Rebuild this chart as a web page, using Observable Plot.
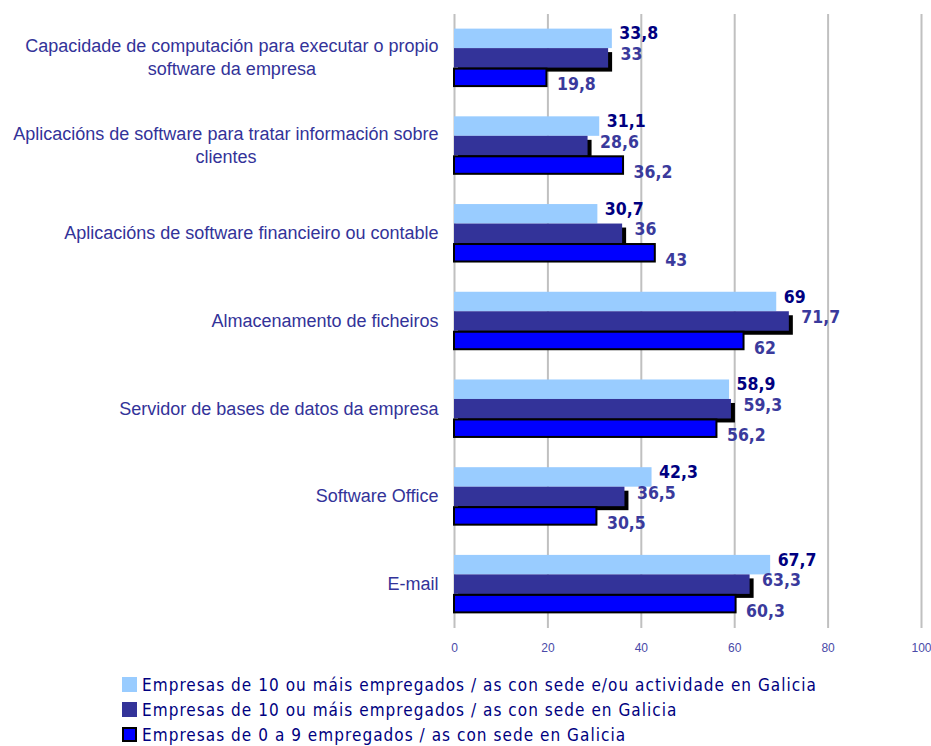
<!DOCTYPE html>
<html>
<head>
<meta charset="utf-8">
<script src="https://cdn.jsdelivr.net/npm/d3@7"></script>
<script src="https://cdn.jsdelivr.net/npm/@observablehq/plot@0.6"></script>
<style>
  html, body { margin: 0; padding: 0; background: #fff; }
  #chart { width: 931px; }
  #legend { margin-left: 122px; margin-top: 7px; color: #000080; }
  .row { display: flex; align-items: center; height: 25px; white-space: nowrap; }
  .sw { width: 15px; height: 15px; margin-right: 5px; box-sizing: border-box; flex: none; }
</style>
</head>
<body>
<div id="chart"></div>
<div id="legend"></div>
<script>
const categories = [
  "Capacidade de computación para executar o propio\nsoftware da empresa",
  "Aplicacións de software para tratar información sobre\nclientes",
  "Aplicacións de software financieiro ou contable",
  "Almacenamento de ficheiros",
  "Servidor de bases de datos da empresa",
  "Software Office",
  "E-mail"
];
const seriesNames = [
  "Empresas de 10 ou máis empregados / as con sede e/ou actividade en Galicia",
  "Empresas de 10 ou máis empregados / as con sede en Galicia",
  "Empresas de 0 a 9 empregados / as con sede en Galicia"
];
const values10Activity = [33.8, 31.1, 30.7, 69, 58.9, 42.3, 67.7];
const values10Galicia  = [33, 28.6, 36, 71.7, 59.3, 36.5, 63.3];
const values0to9       = [19.8, 36.2, 43, 62, 56.2, 30.5, 60.3];
const xTicks = [0, 20, 40, 60, 80, 100];

const colors = ["#99CCFF", "#333399", "#0000FF"];

const W = 931, H = 665, mt = 14, mb = 37, ml = 454, mr = 10;
const pInner = 1/3, pOuter = 1/6;
const step = (H - mt - mb) / (categories.length - pInner + 2 * pOuter);
const bw = step * (1 - pInner);
const sub = bw / 3;

const rows = (vals) => categories.map((c, i) => ({cat: c, v: vals[i], label: String(vals[i]).replace(".", ",")}));
const s1 = rows(values10Activity), s2 = rows(values10Galicia), s3 = rows(values0to9);

const ctx = document.createElement("canvas").getContext("2d");
const valFont = "DejaVu Sans Condensed";
const valSize = 17.5;

const legFont = "DejaVu Sans Condensed";
const legSize = 17;
ctx.font = `${legSize}px "${legFont}"`;
const legW = ctx.measureText(seriesNames[0]).width;
const legSpacing = Math.max(0, (675 - legW) / seriesNames[0].length);

const catFontSize = 18;
ctx.font = `${catFontSize}px "Liberation Sans"`;

const catMarks = categories.map(c => {
  const w = Math.max(...c.split("\n").map(l => ctx.measureText(l).width));
  return Plot.text([c], {
    x: () => 0, y: d => d, text: d => d,
    textAnchor: "middle", dx: -(16 + w / 2), dy: -2,
    fontFamily: "Liberation Sans", fontSize: catFontSize, lineHeight: 1.28,
    fill: "#333399"
  });
});

const valOpts = {x: "v", y: "cat", text: "label", textAnchor: "start", fontWeight: "bold", fontSize: valSize, fontFamily: valFont};

const chart = Plot.plot({
  width: W, height: H,
  marginTop: mt, marginBottom: mb, marginLeft: ml, marginRight: mr,
  style: {color: "#333399", background: "#fff"},
  x: {domain: [0, 100], axis: null},
  y: {domain: categories, paddingInner: pInner, paddingOuter: pOuter, round: false, axis: null},
  marks: [
    Plot.ruleX(xTicks, {stroke: "#c0c0c0", strokeWidth: 2}),
    Plot.axisX({ticks: xTicks, tickSize: 0, tickPadding: 15, fontSize: 12, fontFamily: "Liberation Sans", fill: "#4a4aa8", label: null}),
    Plot.barX(s1, {x: "v", y: "cat", fill: colors[0], insetTop: 0, insetBottom: 2 * sub}),
    Plot.barX(s2, {x: "v", y: "cat", fill: "#000", insetTop: sub, insetBottom: sub, dx: 4, dy: 4}),
    Plot.barX(s2, {x: "v", y: "cat", fill: colors[1], insetTop: sub, insetBottom: sub}),
    Plot.barX(s3, {x: "v", y: "cat", fill: colors[2], stroke: "#000", strokeWidth: 2, insetTop: 2 * sub + 1, insetBottom: 1}),
    Plot.text(s1, {...valOpts, dx: 7, dy: -sub - 5, fill: "#000080"}),
    Plot.text(s2, {...valOpts, dx: 12, dy: -4, fill: "#3a3a9c"}),
    Plot.text(s3, {...valOpts, dx: 10, dy: sub + 7, fill: "#3a3a9c"}),
    ...catMarks
  ]
});
document.getElementById("chart").appendChild(chart);

const legend = document.getElementById("legend");
legend.style.fontFamily = `"${legFont}", sans-serif`;
legend.style.fontSize = legSize + "px";
legend.style.letterSpacing = legSpacing + "px";
seriesNames.forEach((name, i) => {
  const row = document.createElement("div");
  row.className = "row";
  const sw = document.createElement("div");
  sw.className = "sw";
  sw.style.background = colors[i];
  if (i === 2) sw.style.border = "2px solid #000";
  const t = document.createElement("span");
  t.textContent = name;
  row.appendChild(sw); row.appendChild(t);
  legend.appendChild(row);
});
</script>
</body>
</html>
